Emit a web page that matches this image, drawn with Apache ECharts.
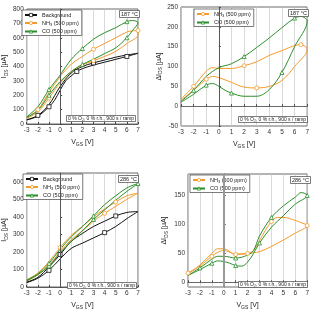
<!DOCTYPE html>
<html>
<head>
    <meta charset="utf-8">
    <title>Hysteresis</title>
    <style>
        body { margin: 0; padding: 0; background: #fff; }
        #chart { width: 312px; height: 311px; }
    </style>
</head>
<body>
    <div id="chart"></div>
    <script src="https://cdn.jsdelivr.net/npm/echarts@6/dist/echarts.min.js"></script>
    <script>
        // ramp up then ramp down, V_GS in V, current in µA
        const p1Background = [[-3,28],[-2,55],[-1,120],[-0.5,165],[0,235],[0.5,300],[1,335],[1.5,365],[2,385],[3,410],[4,430],[5,450],[6,470],[7,492],
            [6,480],[5,465],[4,445],[3,425],[2,400],[1,355],[0,260],[-1,135],[-2,60],[-3,30]];
        const p1Nh3 = [[-3,40],[-2,85],[-1,180],[-0.5,235],[0,285],[1,365],[2,410],[3,440],[4,470],[5,505],[6,560],[7,620],
            [7,650],[6.5,648],[6,640],[5,600],[4,560],[3,520],[2,470],[1,415],[0,330],[-1,220],[-2,100],[-3,45]];
        const p1Co = [[-3,45],[-2,95],[-1,200],[-0.5,250],[0,295],[1,365],[2,415],[3,450],[4,490],[5,530],[6,600],[6.5,650],[7,705],
            [6.5,720],[6,712],[5,670],[4,635],[3,590],[2,525],[1,450],[0,340],[-0.5,290],[-1,240],[-2,120],[-3,50]];

        const p2Nh3 = [[-3,15],[-2,40],[-1,68],[-0.5,75],[0,72],[1,60],[2,48],[3,46],[4,50],[5,65],[6,100],[7,143],
            [6.5,155],[6,153],[5,140],[4,128],[3,112],[2,102],[1,95],[0,95],[-0.5,97],[-1,88],[-2,50],[-3,18]];
        const p2Co = [[-3,10],[-2,30],[-1,53],[-0.5,57],[0,50],[0.5,40],[1,33],[2,25],[3,25],[4,42],[5,85],[6,150],[7,215],
            [6.5,226],[6,222],[5,198],[4,172],[3,148],[2,125],[1,107],[0,97],[-1,75],[-2,40],[-3,12]];

        const p3Background = [[-3,25],[-2,50],[-1,95],[0,160],[1,220],[2,250],[3,280],[4,310],[5,345],[6,390],[7,430],
            [6,425],[5,405],[4,375],[3,345],[2,305],[1,260],[0,185],[-1,115],[-2,55],[-3,28]];
        const p3Nh3 = [[-3,35],[-2,70],[-1,125],[0,200],[1,270],[2,320],[3,375],[4,420],[5,460],[6,500],[7,535],
            [6,520],[5,485],[4,445],[3,400],[2,345],[1,295],[0,225],[-1,145],[-2,80],[-3,40]];
        const p3Co = [[-3,35],[-2,70],[-1,120],[0,195],[1,260],[2,320],[3,385],[4,440],[5,495],[6,545],[7,590],
            [6,565],[5,520],[4,470],[3,405],[2,345],[1,285],[0,215],[-1,135],[-2,75],[-3,40]];

        const p4Nh3 = [[-3,15],[-2,28],[-1,45],[-0.5,52],[0,55],[0.5,52],[1,49],[2,50],[3,53],[4,62],[5,73],[6,85],[7,98],
            [6.5,103],[6,107],[5,112],[4.5,112],[4,105],[3.5,90],[3,72],[2.5,55],[2,50],[1,48],[0,58],[-0.5,58],[-1,50],[-2,30],[-3,16]];
        const p4Co = [[-3,12],[-2,22],[-1,33],[-0.5,37],[0,36],[0.5,33],[1,29],[1.5,28],[2,35],[2.5,50],[3,68],[4,95],[5,115],[6,135],[7,150],
            [6.5,155],[6,147],[5,132],[4,112],[3,80],[2.5,55],[2,47],[1,42],[0,45],[-0.5,45],[-1,40],[-2,25],[-3,12]];

        const temps = ['187 °C', '187 °C', '286 °C', '286 °C'];
        const note = '0 % O₂, 0 % r.h., 900 s / ramp';
        const names = { bg: 'Background', nh3: 'NH3 (500 ppm)', co: 'CO (500 ppm)' };

        const FONT = 'Liberation Sans, Arial, sans-serif';
        const BLACK = '#111', ORANGE = '#f39a2b', GREEN = '#2a8f2a';

        const grids = [
            { left: 21, top: 9, width: 117, height: 115 },
            { left: 181, top: 7, width: 128, height: 119 },
            { left: 22, top: 173, width: 116, height: 118 },
            { left: 188, top: 174, width: 121, height: 115 }
        ].map(g => Object.assign({ show: true, borderColor: '#444', borderWidth: 0.8, backgroundColor: 'transparent' }, g));

        const rich = {
            m: { fontSize: 7, fontFamily: FONT, color: '#222' },
            s: { fontSize: 5, fontFamily: FONT, color: '#222', padding: [4, 0, 0, 0] }
        };

        function xAxis(i) {
            return {
                type: 'value', gridIndex: i, min: -3, max: 7, interval: 1,
                name: '{m|V}{s|GS}{m| [V]}', nameLocation: 'middle', nameGap: 14,
                nameTextStyle: { rich: rich },
                axisLine: { show: true, lineStyle: { color: '#444', width: 0.8 } },
                axisTick: { show: true, inside: true, length: 2, lineStyle: { color: '#444' } },
                axisLabel: { fontSize: 6.5, fontFamily: FONT, color: '#333', margin: 3 },
                splitLine: { show: true, lineStyle: { color: '#c8c8c8', width: 0.7 } }
            };
        }

        function yAxis(i, o) {
            return Object.assign({
                type: 'value', gridIndex: i,
                nameLocation: 'middle', nameRotate: 90,
                nameTextStyle: { rich: rich },
                axisLine: { show: true, lineStyle: { color: '#444', width: 0.8 } },
                axisTick: { show: true, inside: true, length: 2, lineStyle: { color: '#444' } },
                axisLabel: { fontSize: 6.5, fontFamily: FONT, color: '#333', margin: 3 },
                splitLine: { show: false }
            }, o);
        }

        function loop(name, data, color, symbol, idx, every, zeroLine) {
            const s = {
                name: name, type: 'line', data: data, smooth: 0.35,
                xAxisIndex: idx, yAxisIndex: idx,
                symbol: symbol,
                symbolSize: (v, p) => (p.dataIndex % every === 2 ? 4 : 0),
                showAllSymbol: true,
                lineStyle: { color: color, width: 1 },
                itemStyle: { color: '#fff', borderColor: color, borderWidth: 0.8 },
                emphasis: { disabled: true },
                animation: false, z: 3
            };
            if (zeroLine) {
                s.markLine = {
                    silent: true, symbol: 'none', label: { show: false },
                    lineStyle: zeroLine, data: [{ xAxis: 0 }]
                };
            }
            return s;
        }

        function legend(list, left, top) {
            return {
                data: list.map(n => ({ name: n, itemStyle: { borderWidth: 0.8 } })),
                orient: 'vertical', left: left, top: top,
                itemWidth: 12, itemHeight: 4, itemGap: 2,
                backgroundColor: '#fff', borderColor: '#444', borderWidth: 0.7,
                padding: [2, 3, 1, 2],
                formatter: n => n.replace('NH3', 'NH{s|3}'),
                textStyle: {
                    fontSize: 5.5, fontFamily: FONT, color: '#222',
                    rich: { s: { fontSize: 4, fontFamily: FONT, color: '#222', padding: [3, 0, 0, 0] } }
                },
                selectedMode: false
            };
        }

        function box(text, left, top, fs) {
            return {
                text: text, left: left, top: top,
                backgroundColor: '#fff', borderColor: '#444', borderWidth: 0.7,
                padding: [1, 2, 1, 2],
                textStyle: { fontSize: fs, fontWeight: 'normal', fontFamily: FONT, color: '#222' }
            };
        }

        const dark = { color: '#555', width: 1, type: 'solid' };
        const thick = { color: '#999', width: 2, type: 'solid' };

        const option = {
            animation: false,
            grid: grids,
            xAxis: [xAxis(0), xAxis(1), xAxis(2), xAxis(3)],
            yAxis: [
                yAxis(0, { min: 0, max: 800, interval: 100, name: '{m|I}{s|DS}{m| [µA]}', nameGap: 14 }),
                yAxis(1, { min: -50, max: 250, interval: 50, name: '{m|ΔI}{s|DS}{m| [µA]}', nameGap: 15 }),
                yAxis(2, { min: 0, max: 650, interval: 100, name: '{m|I}{s|DS}{m| [µA]}', nameGap: 14,
                    axisLabel: { fontSize: 6.5, fontFamily: FONT, color: '#333', margin: 3, showMaxLabel: false } }),
                yAxis(3, { min: -8, max: 187, name: '{m|ΔI}{s|DS}{m| [µA]}', nameGap: 19,
                    axisLabel: { fontSize: 6.5, fontFamily: FONT, color: '#333', margin: 3, customValues: [0, 50, 100, 150] },
                    axisTick: { show: true, inside: true, length: 2, lineStyle: { color: '#444' }, customValues: [0, 50, 100, 150] } })
            ],
            legend: [
                legend([names.bg, names.nh3, names.co], 22, 10),
                legend([names.nh3, names.co], 194, 9),
                legend([names.bg, names.nh3, names.co], 23, 174),
                legend([names.nh3, names.co], 190, 175)
            ],
            title: [
                box(temps[0], 119, 10, 5.5),
                box(temps[1], 288, 9, 5.5),
                box(temps[2], 118, 175, 5.5),
                box(temps[3], 290, 176, 5.5),
                box(note, 66, 115, 5),
                box(note, 238, 116, 5),
                box(note, 67, 282, 5),
                box(note, 238, 281, 5)
            ],
            series: [
                loop(names.bg, p1Background, BLACK, 'rect', 0, 5, dark),
                loop(names.nh3, p1Nh3, ORANGE, 'circle', 0, 5),
                loop(names.co, p1Co, GREEN, 'triangle', 0, 4),
                loop(names.nh3, p2Nh3, ORANGE, 'circle', 1, 5, dark),
                loop(names.co, p2Co, GREEN, 'triangle', 1, 4),
                loop(names.bg, p3Background, BLACK, 'rect', 2, 5, dark),
                loop(names.nh3, p3Nh3, ORANGE, 'circle', 2, 5),
                loop(names.co, p3Co, GREEN, 'triangle', 2, 4),
                loop(names.nh3, p4Nh3, ORANGE, 'circle', 3, 5, thick),
                loop(names.co, p4Co, GREEN, 'triangle', 3, 4)
            ]
        };

        const chart = echarts.init(document.getElementById('chart'));
        chart.setOption(option);
    </script>
</body>
</html>
